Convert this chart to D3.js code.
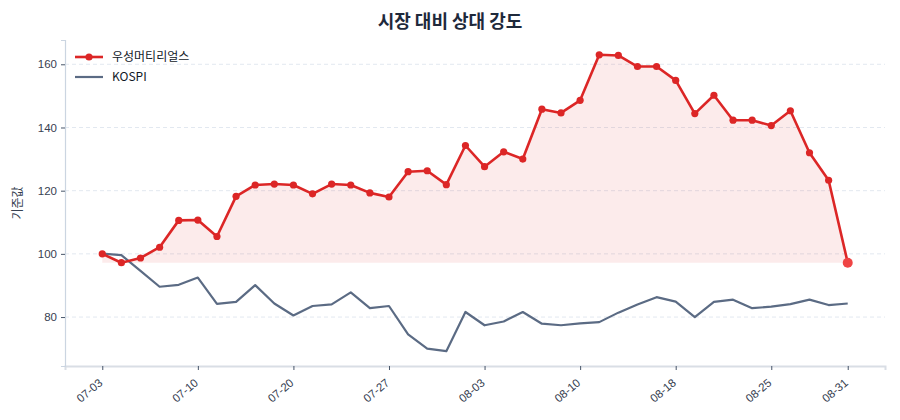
<!DOCTYPE html>
<html>
<head>
<meta charset="utf-8">
<script src="https://cdn.jsdelivr.net/npm/d3@7"></script>
<style>
  body { margin: 0; background: #fff; font-family: "Noto Sans CJK KR", "Noto Sans", sans-serif; }
  .tick text { fill: #374151; font-size: 11.5px; }
</style>
</head>
<body>
<div id="chart"></div>
<script>
var dates = ["07-03","07-04","07-06","07-07","07-08","07-10","07-11","07-13","07-14","07-17",
             "07-20","07-21","07-22","07-24","07-25","07-27","07-28","07-29","07-31","08-01",
             "08-03","08-04","08-05","08-06","08-07","08-10","08-11","08-12","08-14","08-17",
             "08-18","08-19","08-20","08-21","08-24","08-25","08-26","08-27","08-28","08-31"];

var stock = [100, 97.2, 98.7, 102.1, 110.6, 110.7, 105.5, 118.2, 121.8, 122.1,
             121.8, 119.0, 122.1, 121.8, 119.3, 118.0, 126.0, 126.3, 121.9, 134.3,
             127.6, 132.3, 130.0, 145.8, 144.6, 148.6, 163.0, 162.8, 159.3, 159.3,
             154.9, 144.4, 150.2, 142.3, 142.3, 140.6, 145.3, 132.0, 123.3, 97.2];

var kospi = [100.1, 99.6, 94.6, 89.6, 90.2, 92.5, 84.2, 84.8, 90.1, 84.3,
             80.5, 83.5, 84.0, 87.8, 82.8, 83.5, 74.5, 70.0, 69.2, 81.6,
             77.4, 78.6, 81.6, 77.9, 77.4, 78.0, 78.4, 81.4, 84.0, 86.3,
             84.9, 80.0, 84.8, 85.5, 82.8, 83.3, 84.1, 85.5, 83.8, 84.3];

var seriesNames = ["우성머티리얼스", "KOSPI"];
var yTicks = [80, 100, 120, 140, 160];

var width = 900, height = 420;
var margin = {top: 40, right: 15, bottom: 54, left: 65};
var innerW = width - margin.left - margin.right;
var innerH = height - margin.top - margin.bottom;

var svg = d3.select("#chart").append("svg")
    .attr("width", width)
    .attr("height", height);

// title
svg.append("text")
    .attr("x", width / 2)
    .attr("y", 28)
    .attr("text-anchor", "middle")
    .attr("font-size", 18)
    .attr("font-weight", 700)
    .attr("fill", "#1e293b")
    .text("시장 대비 상대 강도");

var g = svg.append("g")
    .attr("transform", "translate(" + margin.left + "," + margin.top + ")");

// x: index based, matplotlib-like 5% margins
var n = dates.length;
var pad = (n - 1) * 0.05;
var x = d3.scaleLinear()
    .domain([-pad, n - 1 + pad])
    .range([0, innerW]);

var all = stock.concat(kospi);
var yMin = d3.min(all), yMax = d3.max(all);
var yPad = (yMax - yMin) * 0.05;
var y = d3.scaleLinear()
    .domain([yMin - yPad, yMax + yPad])
    .range([innerH, 0]);

// grid
g.selectAll("line.grid")
  .data(yTicks)
  .enter()
  .append("line")
  .attr("class", "grid")
  .attr("x1", 0)
  .attr("x2", innerW)
  .attr("y1", function(d) { return y(d); })
  .attr("y2", function(d) { return y(d); })
  .attr("stroke", "#e2e8f0")
  .attr("stroke-dasharray", "4,3")
  .attr("stroke-width", 1);

// fill under stock line down to its minimum
var base = d3.min(stock);
var area = d3.area()
    .x(function(d, i) { return x(i); })
    .y0(y(base))
    .y1(function(d) { return y(d); });

g.append("path")
  .datum(stock)
  .attr("d", area)
  .attr("fill", "#dc2626")
  .attr("fill-opacity", 0.09);

var line = d3.line()
    .x(function(d, i) { return x(i); })
    .y(function(d) { return y(d); });

g.append("path")
  .datum(kospi)
  .attr("d", line)
  .attr("fill", "none")
  .attr("stroke", "#5b6b84")
  .attr("stroke-width", 2.2)
  .attr("stroke-linejoin", "round");

g.append("path")
  .datum(stock)
  .attr("d", line)
  .attr("fill", "none")
  .attr("stroke", "#dc2626")
  .attr("stroke-width", 2.6)
  .attr("stroke-linejoin", "round");

g.selectAll("circle.pt")
  .data(stock.slice(0, n - 1))
  .enter()
  .append("circle")
  .attr("class", "pt")
  .attr("cx", function(d, i) { return x(i); })
  .attr("cy", function(d) { return y(d); })
  .attr("r", 3.6)
  .attr("fill", "#dc2626");

// last point highlighted
g.append("circle")
  .attr("cx", x(n - 1))
  .attr("cy", y(stock[n - 1]))
  .attr("r", 5)
  .attr("fill", "#ef4444");

// axes
var xAxis = d3.axisBottom(x)
    .tickValues(d3.range(n).filter(function(i) { return i % 5 === 0 || i === n - 1; }))
    .tickFormat(function(i) { return dates[i]; })
    .tickSize(4);

var gx = g.append("g")
    .attr("transform", "translate(0," + innerH + ")")
    .call(xAxis);
gx.select(".domain").attr("stroke", "#d9dee5").attr("stroke-width", 2);
gx.selectAll(".tick line").attr("stroke", "#475569");
gx.selectAll(".tick text")
  .attr("text-anchor", "end")
  .attr("x", 0)
  .attr("y", 0)
  .attr("dy", "0.35em")
  .attr("transform", "translate(-2,15) rotate(-40)");

var yAxis = d3.axisLeft(y)
    .tickValues(yTicks)
    .tickSize(4)
    .tickPadding(4);

var gy = g.append("g").call(yAxis);
gy.select(".domain").attr("stroke", "#cbd5e1").attr("stroke-width", 1.2);
gy.selectAll(".tick line").attr("stroke", "#475569");
gy.selectAll(".tick text").attr("font-size", 12);

svg.append("text")
    .attr("transform", "translate(22," + (margin.top + innerH / 2) + ") rotate(-90)")
    .attr("text-anchor", "middle")
    .attr("font-size", 12)
    .attr("fill", "#374151")
    .text("기준값");

// legend
var legend = g.append("g").attr("transform", "translate(10,17)");
var legColors = ["#dc2626", "#5b6b84"];
seriesNames.forEach(function(name, i) {
  var row = legend.append("g").attr("transform", "translate(0," + (i * 20) + ")");
  row.append("line")
    .attr("x1", 0).attr("x2", 28)
    .attr("y1", 0).attr("y2", 0)
    .attr("stroke", legColors[i])
    .attr("stroke-width", i === 0 ? 2.6 : 2.2);
  if (i === 0) {
    row.append("circle").attr("cx", 14).attr("cy", 0).attr("r", 3.6).attr("fill", legColors[i]);
  }
  row.append("text")
    .attr("x", 37)
    .attr("y", 0)
    .attr("dy", "0.35em")
    .attr("font-size", 12)
    .attr("fill", "#111827")
    .text(name);
});
</script>
</body>
</html>
